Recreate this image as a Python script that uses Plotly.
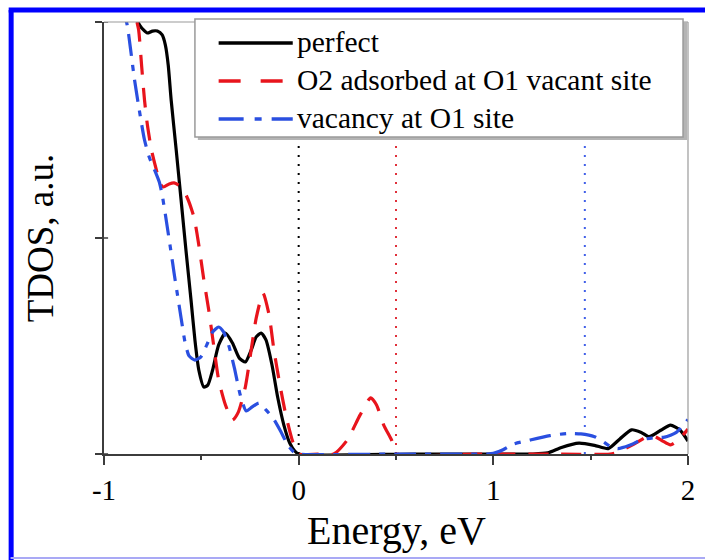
import plotly.graph_objects as go

# ---- total density of states (arbitrary units) versus energy (eV) ----
e_perfect = [-0.88, -0.853, -0.832, -0.817, -0.797, -0.777, -0.751, -0.726, -0.701,
             -0.685, -0.67, -0.655, -0.629, -0.604, -0.579, -0.553, -0.533, -0.513,
             -0.487, -0.467, -0.442, -0.411, -0.376, -0.34, -0.305, -0.274, -0.244,
             -0.218, -0.193, -0.168, -0.137, -0.107, -0.076, -0.046, -0.02, 0.0,
             0.6, 1.2, 1.28, 1.35, 1.44, 1.52, 1.59, 1.65, 1.71, 1.76, 1.80, 1.86,
             1.91, 1.96, 2.0]
tdos_perfect = [2.15, 2.06, 2.01, 1.986, 1.963, 1.949, 1.958, 1.958, 1.94,
                1.894, 1.80, 1.639, 1.407, 1.176, 0.944, 0.713, 0.528, 0.389,
                0.31, 0.319, 0.389, 0.505, 0.56, 0.514, 0.444, 0.426, 0.481,
                0.542, 0.56, 0.528, 0.412, 0.259, 0.134, 0.051, 0.014, 0.0,
                0.0, 0.0, 0.005, 0.03, 0.05, 0.04, 0.025, 0.07, 0.112, 0.1, 0.08, 0.11,
                0.134, 0.11, 0.06]

e_o2 = [-0.86, -0.838, -0.822, -0.807, -0.792, -0.777, -0.756, -0.731, -0.711,
        -0.695, -0.665, -0.64, -0.604, -0.574, -0.538, -0.513, -0.487, -0.462,
        -0.437, -0.411, -0.376, -0.34, -0.31, -0.274, -0.244, -0.218, -0.183,
        -0.152, -0.127, -0.096, -0.066, -0.03, 0.0, 0.1, 0.18, 0.25, 0.315, 0.37,
        0.40, 0.437, 0.477, 0.508, 0.9, 1.3, 1.6, 1.64, 1.685, 1.74, 1.787, 1.83,
        1.87, 1.91, 1.95, 2.0]
tdos_o2 = [2.15, 2.03, 1.963, 1.80, 1.639, 1.523, 1.407, 1.315, 1.25,
           1.236, 1.25, 1.255, 1.236, 1.19, 1.097, 0.968, 0.806, 0.667,
           0.505, 0.343, 0.227, 0.157, 0.194, 0.31, 0.481, 0.63, 0.745,
           0.644, 0.481, 0.319, 0.181, 0.056, 0.0, 0.0, 0.0, 0.065, 0.18, 0.26,
           0.227, 0.134, 0.065, 0.0, 0.0, 0.0, 0.0, 0.008, 0.028, 0.055, 0.079, 0.08,
           0.06, 0.042, 0.065, 0.115]

e_vac = [-0.93, -0.909, -0.883, -0.863, -0.843, -0.817, -0.792, -0.766, -0.736,
         -0.716, -0.701, -0.675, -0.655, -0.64, -0.624, -0.604, -0.584, -0.563,
         -0.533, -0.503, -0.472, -0.442, -0.411, -0.386, -0.36, -0.33, -0.3,
         -0.269, -0.239, -0.203, -0.168, -0.132, -0.096, -0.056, -0.025, 0.0,
         0.5, 0.97, 1.0, 1.05, 1.1, 1.19, 1.29, 1.38, 1.45, 1.52, 1.56, 1.6, 1.64,
         1.7, 1.76, 1.82, 1.88, 1.94, 2.0]
tdos_vac = [2.15, 2.06, 1.995, 1.87, 1.731, 1.583, 1.454, 1.37, 1.306,
            1.259, 1.199, 1.051, 0.931, 0.838, 0.745, 0.63, 0.519, 0.454,
            0.435, 0.449, 0.505, 0.565, 0.588, 0.565, 0.505, 0.398, 0.273,
            0.199, 0.218, 0.236, 0.204, 0.167, 0.111, 0.042, 0.009, 0.0,
            0.0, 0.0, 0.003, 0.02, 0.045, 0.065, 0.085, 0.095, 0.093, 0.08, 0.06, 0.035, 0.025,
            0.04, 0.065, 0.075, 0.078, 0.1, 0.16]

series_names = ["perfect", "O2 adsorbed at O1 vacant site", "vacancy at O1 site"]

# Fermi level of each system (eV)
fermi_levels = [0.0, 0.5, 1.47]

x_ticks = [-1, 0, 1, 2]
x_tick_labels = ["-1", "0", "1", "2"]
x_minor_ticks = [-0.5, 0.5, 1.5]
y_ticks = [0, 1, 2]

SERIF = "Liberation Serif"
AXIS_COL = "#3c3c3c"

# line style per series (curve dash, key dash)
styles = [
    dict(color="#000000", dash="solid", key_dash="solid"),
    dict(color="#e8141c", dash="20px,13px", key_dash="22px,20px"),
    dict(color="#2a4fe0", dash="22px,9px,6px,9px", key_dash="25px,11px,7px,10px"),
]
fermi_colors = ["#000000", "#e0303a", "#4060e8"]

fig = go.Figure()

# dotted Fermi level markers
for ef, col in zip(fermi_levels, fermi_colors):
    fig.add_trace(go.Scatter(x=[ef, ef], y=[y_ticks[0], y_ticks[-1]], mode="lines",
                             line=dict(color=col, width=2, dash="2px,7px"),
                             showlegend=False, hoverinfo="skip"))

for name, xs, ys, st in zip(series_names, [e_perfect, e_o2, e_vac],
                            [tdos_perfect, tdos_o2, tdos_vac], styles):
    fig.add_trace(go.Scatter(x=xs, y=ys, name=name, mode="lines", showlegend=False,
                             line=dict(color=st["color"], width=3.2, shape="spline",
                                       smoothing=0.6, dash=st["dash"])))

fig.update_xaxes(range=[-1, 2], tickvals=x_ticks, ticktext=x_tick_labels,
                 ticks="outside", ticklen=9, tickwidth=1.5,
                 tickcolor=AXIS_COL, showline=True, linecolor=AXIS_COL, linewidth=2,
                 showgrid=False, zeroline=False,
                 tickfont=dict(family=SERIF, size=29, color="black"),
                 minor=dict(tickvals=x_minor_ticks, ticks="outside", ticklen=4,
                            tickwidth=1.5, tickcolor=AXIS_COL))
fig.update_yaxes(range=[0, 2], tickvals=y_ticks, ticks="outside", ticklen=7, tickwidth=1.5,
                 tickcolor=AXIS_COL, showline=True, linecolor=AXIS_COL, linewidth=2,
                 showgrid=False, zeroline=False, showticklabels=False)

shapes = []
annotations = []
# inner halves of the y ticks (ticks cross the axis)
for yt in y_ticks:
    shapes.append(dict(type="line", xref="paper", yref="y", x0=0, x1=0.007, y0=yt, y1=yt,
                       line=dict(color=AXIS_COL, width=1.5)))
# light frame on top and right of the plot box
shapes.append(dict(type="line", xref="paper", yref="paper", x0=0, x1=1, y0=1, y1=1,
                   line=dict(color="#9a9a9a", width=1.2)))
shapes.append(dict(type="line", xref="paper", yref="paper", x0=1, x1=1, y0=0, y1=1,
                   line=dict(color="#9a9a9a", width=1.2)))

# legend box with drop shadow
LEG_X0, LEG_X1, LEG_Y0, LEG_Y1 = 0.1557, 0.9915, 0.7338, 1.0069
shapes.append(dict(type="rect", xref="paper", yref="paper", x0=LEG_X0 + 0.005, x1=LEG_X1 + 0.0068,
                   y0=LEG_Y0 - 0.007, y1=LEG_Y1 - 0.007, fillcolor="#b4b4b4",
                   line=dict(width=0), layer="above"))
shapes.append(dict(type="rect", xref="paper", yref="paper", x0=LEG_X0, x1=LEG_X1,
                   y0=LEG_Y0, y1=LEG_Y1, fillcolor="white",
                   line=dict(color="#9a9a9a", width=1.5), layer="above"))
row_y = [0.9514, 0.8634, 0.7755]
for name, st, ry in zip(series_names, styles, row_y):
    shapes.append(dict(type="line", xref="paper", yref="paper", x0=0.1963, x1=0.3232,
                       y0=ry, y1=ry, layer="above",
                       line=dict(color=st["color"], width=3.5, dash=st["key_dash"])))
    annotations.append(dict(text=name, xref="paper", yref="paper", x=0.3266, y=ry + 0.002,
                            xanchor="left", yanchor="middle", showarrow=False,
                            font=dict(family=SERIF, size=29.5, color="black")))

# blue page frame
shapes.append(dict(type="line", xref="paper", yref="paper", x0=-0.1590, x1=-0.1590,
                   y0=-0.26, y1=1.0278, line=dict(color="#0000ff", width=5)))
shapes.append(dict(type="line", xref="paper", yref="paper", x0=-0.1632, x1=1.05,
                   y0=1.0278, y1=1.0278, line=dict(color="#0000ff", width=5)))
shapes.append(dict(type="line", xref="paper", yref="paper", x0=-0.16, x1=1.05,
                   y0=-0.2407, y1=-0.2407, line=dict(color="#a9a9f5", width=2)))

annotations += [
    dict(text="Energy, eV", xref="paper", yref="paper", x=0.5, y=-0.176,
         xanchor="center", yanchor="middle", showarrow=False,
         font=dict(family=SERIF, size=40, color="black")),
    dict(text="TDOS, a.u.", xref="paper", yref="paper", x=-0.109, y=0.5,
         xanchor="center", yanchor="middle", showarrow=False, textangle=-90,
         font=dict(family=SERIF, size=37, color="black")),
]

fig.update_layout(
    width=705, height=560,
    margin=dict(l=104, r=10, t=22, b=106),
    paper_bgcolor="white", plot_bgcolor="white",
    font=dict(family=SERIF, color="black"),
    shapes=shapes,
    annotations=annotations,
    showlegend=False,
)

fig.write_html("out.html")
